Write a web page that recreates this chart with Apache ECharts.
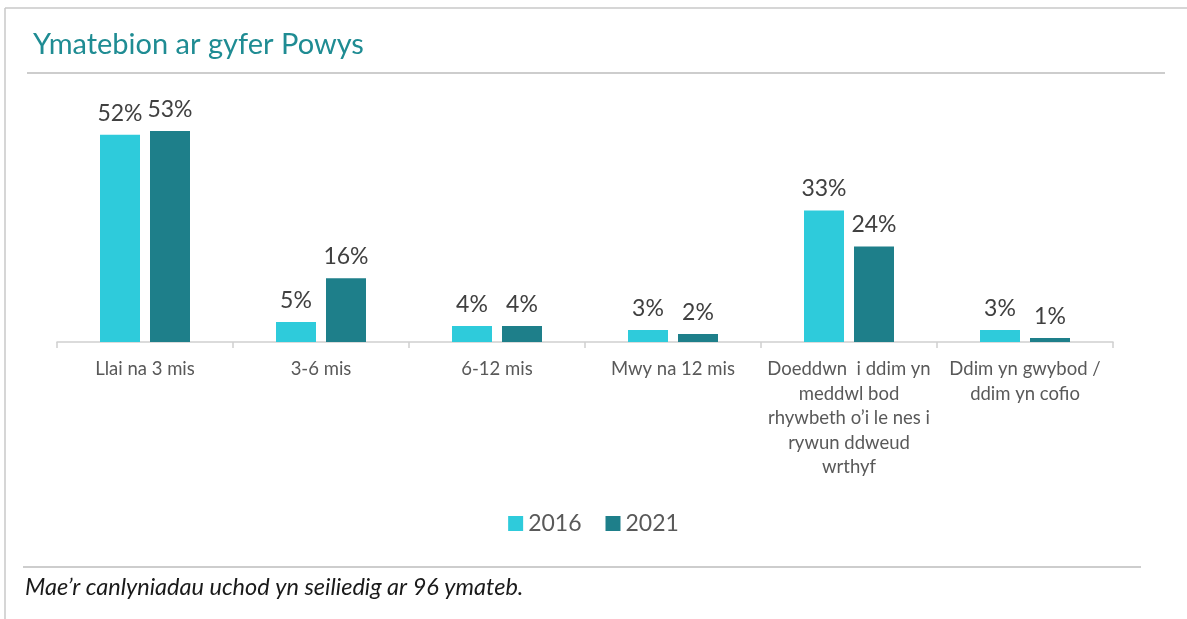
<!DOCTYPE html>
<html>
<head>
<meta charset="utf-8">
<script src="https://cdn.jsdelivr.net/npm/echarts@6/dist/echarts.min.js"></script>
<style>
  html, body { margin: 0; padding: 0; background: #fff; }
  #main { width: 1187px; height: 619px; }
</style>
</head>
<body>
<div id="main"></div>
<script>
const categories = [
  'Llai na 3 mis',
  '3-6 mis',
  '6-12 mis',
  'Mwy na 12 mis',
  'Doeddwn  i ddim yn\nmeddwl bod\nrhywbeth o\u2019i le nes i\nrywun ddweud\nwrthyf',
  'Ddim yn gwybod /\nddim yn cofio'
];
const years = ['2016', '2021'];
const values2016 = [52, 5, 4, 3, 33, 3];
const values2021 = [53, 16, 4, 2, 24, 1];

const font = 'Lato, "Open Sans", sans-serif';
const myChart = echarts.init(document.getElementById('main'));

const labelStyle = {
  show: true,
  position: 'top',
  distance: 10,
  formatter: '{c}%',
  fontSize: 23,
  color: '#404040',
  fontFamily: font
};

const option = {
  animation: false,
  textStyle: { fontFamily: font },
  title: {
    text: 'Ymatebion ar gyfer Powys',
    left: 28,
    top: 25,
    textStyle: { color: '#1f8c93', fontSize: 29, fontWeight: 'normal', fontFamily: font }
  },
  legend: {
    data: years,
    bottom: 79,
    left: 'center',
    itemWidth: 15,
    itemHeight: 15,
    itemGap: 24,
    icon: 'rect',
    textStyle: { fontSize: 23, color: '#595959', fontFamily: font }
  },
  grid: { left: 57, right: 74, top: 103, height: 239 },
  xAxis: {
    type: 'category',
    data: categories,
    axisLine: { lineStyle: { color: '#d0d0d0', width: 1.5 } },
    axisTick: { show: true, length: 6, lineStyle: { color: '#d0d0d0', width: 1.5 } },
    axisLabel: {
      interval: 0,
      color: '#595959',
      fontSize: 18.5,
      lineHeight: 24.5,
      margin: 15,
      fontFamily: font
    }
  },
  yAxis: {
    type: 'value',
    min: 0,
    max: 60,
    show: false,
    splitLine: { show: false }
  },
  series: [
    {
      name: '2016',
      type: 'bar',
      data: values2016,
      barWidth: 40,
      barGap: '25%',
      itemStyle: { color: '#2ecbdb' },
      label: labelStyle
    },
    {
      name: '2021',
      type: 'bar',
      data: values2021,
      barWidth: 40,
      itemStyle: { color: '#1e7f8a' },
      label: labelStyle
    }
  ],
  graphic: [
    { type: 'line', shape: { x1: 5, y1: 8, x2: 1187, y2: 8 }, style: { stroke: '#c8c8c8', lineWidth: 1.5 } },
    { type: 'line', shape: { x1: 5, y1: 8, x2: 5, y2: 619 }, style: { stroke: '#c8c8c8', lineWidth: 1.5 } },
    { type: 'line', shape: { x1: 27, y1: 73, x2: 1165, y2: 73 }, style: { stroke: '#bdbdbd', lineWidth: 1.5 } },
    { type: 'line', shape: { x1: 23, y1: 567, x2: 1141, y2: 567 }, style: { stroke: '#bdbdbd', lineWidth: 1.5 } },
    {
      type: 'text',
      left: 25,
      top: 576,
      style: {
        text: 'Mae\u2019r canlyniadau uchod yn seiliedig ar 96 ymateb.',
        fontSize: 23.5,
        fontStyle: 'italic',
        fill: '#1a1a1a',
        fontFamily: font
      }
    }
  ]
};

myChart.setOption(option);
</script>
</body>
</html>
